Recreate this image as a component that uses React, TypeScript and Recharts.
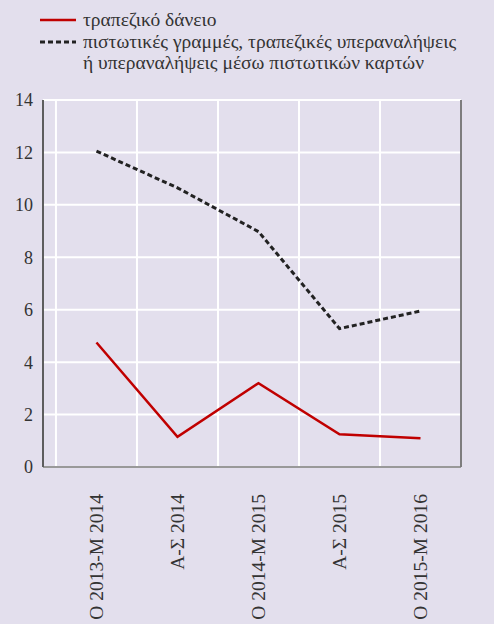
import { LineChart, Line, XAxis, YAxis, CartesianGrid, ReferenceLine } from 'recharts';

const categories = ['Ο 2013-Μ 2014', 'Α-Σ 2014', 'Ο 2014-Μ 2015', 'Α-Σ 2015', 'Ο 2015-Μ 2016'];
const loanValues = [4.75, 1.15, 3.2, 1.25, 1.1];
const creditLineValues = [12.05, 10.65, 8.98, 5.28, 5.95];
const yTicks = [0, 2, 4, 6, 8, 10, 12, 14];

const loanLabel = 'τραπεζικό δάνειο';
const creditLabel1 = 'πιστωτικές γραμμές, τραπεζικές υπεραναλήψεις';
const creditLabel2 = 'ή υπεραναλήψεις μέσω πιστωτικών καρτών';

// numeric x: each category is a unit band, centred on its index
const xDomain = [-0.66, categories.length - 0.5];
const bandEdges = categories.map((_, i) => i - 0.5);
const boundaryTicks = [xDomain[0], ...bandEdges, xDomain[1]];

const data = categories.map((c, i) => ({
  x: i,
  cat: c,
  loan: loanValues[i],
  credit: creditLineValues[i],
}));

const BG = '#e3dfed';
const TEXT = '#333';
const FONT = '"Liberation Serif", "DejaVu Serif", serif';

function CatTick(props: any) {
  const { x, y, payload } = props;
  return (
    <text
      x={x}
      y={y}
      transform={`rotate(-90, ${x}, ${y})`}
      textAnchor="end"
      dy="0.35em"
      fill={TEXT}
      fontSize={19.5}
      fontFamily={FONT}
    >
      {categories[payload.value]}
    </text>
  );
}

export default function App() {
  return (
    <div style={{ position: 'absolute', left: 0, top: 0, width: 494, height: 624, background: BG, fontFamily: FONT }}>
      <div style={{ position: 'absolute', left: 40, top: 9, fontSize: 19.5, color: TEXT, lineHeight: '21px' }}>
        <div style={{ display: 'flex', alignItems: 'center' }}>
          <svg width={43} height={21}>
            <line x1={0} x2={36} y1={11} y2={11} stroke="#c00000" strokeWidth={2.5} />
          </svg>
          <span>{loanLabel}</span>
        </div>
        <div style={{ display: 'flex', alignItems: 'center', marginTop: 1 }}>
          <svg width={43} height={21}>
            <line x1={0} x2={36} y1={11} y2={11} stroke="#222" strokeWidth={3} strokeDasharray="5 3" />
          </svg>
          <span>{creditLabel1}</span>
        </div>
        <div style={{ paddingLeft: 43 }}>{creditLabel2}</div>
      </div>
      <div style={{ position: 'absolute', left: 0, top: 0 }}>
        <LineChart width={494} height={624} data={data} margin={{ top: 100, right: 0, bottom: 0, left: 0 }}>
          <CartesianGrid xAxisId="edge" yAxisId="left" stroke="#ffffff" strokeWidth={2} vertical={false} />
          {bandEdges.map((t) => (
            <ReferenceLine key={t} x={t} xAxisId="edge" yAxisId="left" stroke="#ffffff" strokeWidth={2} />
          ))}
          <XAxis
            xAxisId="edge"
            dataKey="x"
            type="number"
            domain={xDomain}
            ticks={boundaryTicks}
            tick={false}
            height={12}
            tickSize={10}
            axisLine={{ stroke: '#777', strokeWidth: 1.5 }}
            tickLine={{ stroke: '#555', strokeWidth: 1.5 }}
            allowDataOverflow
          />
          <XAxis
            xAxisId="lab"
            dataKey="x"
            type="number"
            domain={xDomain}
            ticks={categories.map((_, i) => i)}
            tick={<CatTick />}
            axisLine={false}
            tickLine={false}
            tickMargin={9}
            height={145}
            allowDataOverflow
          />
          <YAxis
            yAxisId="left"
            domain={[0, 14]}
            ticks={yTicks}
            width={43}
            tickSize={0}
            tickMargin={10}
            axisLine={{ stroke: '#555', strokeWidth: 1.5 }}
            tickLine={false}
            tick={{ fill: TEXT, fontSize: 18, fontFamily: FONT }}
          />
          <YAxis
            yAxisId="right"
            orientation="right"
            domain={[0, 14]}
            ticks={yTicks}
            width={33}
            tickSize={0}
            tickMargin={10}
            axisLine={{ stroke: '#777', strokeWidth: 1.5 }}
            tickLine={false}
            tick={{ fill: TEXT, fontSize: 18, fontFamily: FONT, textAnchor: 'start' }}
          />
          <ReferenceLine x={xDomain[0]} xAxisId="edge" yAxisId="left" stroke="#555" strokeWidth={1.5} />
          <ReferenceLine x={xDomain[1]} xAxisId="edge" yAxisId="left" stroke="#777" strokeWidth={1.5} />
          <Line
            xAxisId="edge"
            yAxisId="left"
            dataKey="loan"
            stroke="#c00000"
            strokeWidth={2.5}
            dot={false}
            isAnimationActive={false}
          />
          <Line
            xAxisId="edge"
            yAxisId="left"
            dataKey="credit"
            stroke="#222"
            strokeWidth={3}
            strokeDasharray="5 3"
            dot={false}
            isAnimationActive={false}
          />
        </LineChart>
      </div>
    </div>
  );
}
